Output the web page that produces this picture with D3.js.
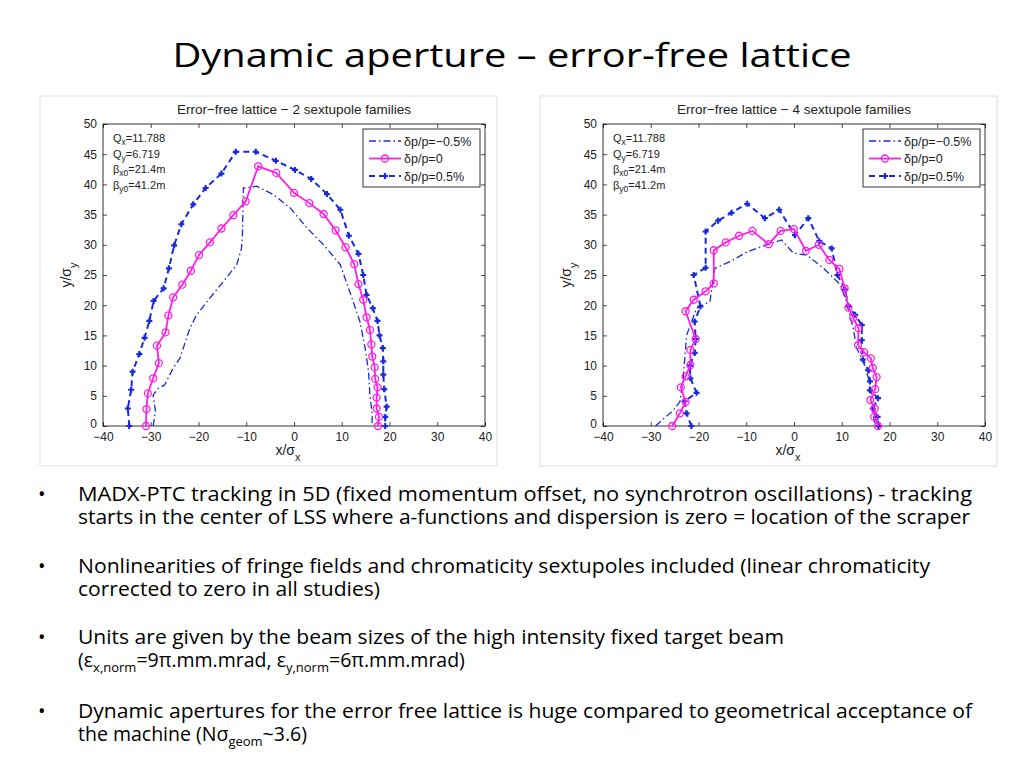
<!DOCTYPE html>
<html><head><meta charset="utf-8">
<script src="https://cdn.jsdelivr.net/npm/d3@7"></script>
<style>body{margin:0;background:#fff;overflow:hidden}</style>
</head><body><svg id="s" width="1024" height="768"></svg>
<script>
const xTicks=[-40,-30,-20,-10,0,10,20,30,40];
const yTicks=[0,5,10,15,20,25,30,35,40,45,50];
const legendLabels=["δp/p=−0.5%","δp/p=0","δp/p=0.5%"];
const titles=["Error−free lattice − 2 sextupole families","Error−free lattice − 4 sextupole families"];
// chart 1
const c1m=[[-29.5,0],[-29,2.4],[-29.5,5.1],[-28.5,6.2],[-27.1,6.8],[-25.3,9.6],[-23.9,11.2],[-21.8,16.2],[-20.4,18.4],[-17.6,21.2],[-14.8,23.9],[-12,26.7],[-11,29.4],[-10.8,31.7],[-10.6,39.4],[-7.8,39.7],[-4.3,38.3],[-0.8,36.1],[2.7,32.8],[6.2,30],[9.7,26.7],[12.4,20.6],[13.8,17.3],[14.9,12.9],[15.6,9],[15.9,5.1],[16.4,1.8],[16.3,0]];
const c1z=[[-31,0],[-30.9,2.8],[-30.6,5.4],[-29.5,7.9],[-28.3,10.4],[-28.7,13.3],[-26.9,15.5],[-26.3,18.3],[-25.3,21.3],[-23.4,23.4],[-21.6,25.7],[-19.9,28.3],[-17.6,30.4],[-15.2,32.7],[-12.7,34.9],[-10.1,37.2],[-7.5,43],[-3.7,41.9],[0,38.6],[3.2,36.9],[6.2,35.1],[8.7,32.4],[10.8,29.6],[12.6,26.8],[13.5,23.5],[14.5,20.9],[15.2,18],[15.9,15.9],[16.2,13.5],[16.4,11.5],[16.9,9.7],[17,7.8],[17.5,6.4],[17.3,4.7],[17.3,2.9],[17.8,1.5],[17.6,0]];
const c1p=[[-34.5,0],[-34.8,2.9],[-34.1,6],[-33.8,9],[-32.4,11.9],[-31.3,14.6],[-30.3,17.4],[-29.4,20.7],[-27.3,22.8],[-26.2,26.1],[-25.1,29.9],[-23.6,33.4],[-21.1,36.7],[-18.5,39.4],[-15.2,41.8],[-12.2,45.4],[-8,45.4],[-3.8,43.9],[0.2,42.4],[3.6,40.9],[6.9,38.4],[9.7,35.8],[11.5,31.5],[13.5,28.5],[14.5,25],[15.2,21.7],[16.5,19.5],[17.5,17.4],[17.9,15],[18.6,12.9],[18.7,10.7],[18.7,8.5],[18.9,6.1],[19.4,3.2],[19.1,1.5],[19.1,0]];
// chart 2
const c2m=[[-29,0],[-25.3,2.6],[-23.9,4],[-23.2,7.9],[-22.5,15],[-20.4,19.5],[-17.6,20.6],[-16.6,26.1],[-13.4,27.2],[-9.9,28.8],[-5.7,30],[-2.6,30.8],[-0.1,28.6],[2.7,28.3],[6.2,26.1],[9.7,23.4],[11,20.6],[12.4,16.2],[13.1,12.9],[14.5,10.7],[15.6,7.9],[16.3,5.1],[16.6,1.8],[17,0]];
const c2z=[[-25.5,0],[-23.9,2.1],[-22.7,4],[-23.7,6.4],[-22.7,8.2],[-21.7,10.1],[-21.7,12.6],[-20.6,14.4],[-22.7,19],[-21,20.9],[-18.5,22.3],[-16.8,23.6],[-16.8,29.1],[-14.3,30.4],[-11.5,31.5],[-8.7,32.3],[-5.3,30.1],[-2.8,32.3],[0,32.6],[2.5,29],[5.2,30],[7.4,27.5],[9.5,26],[10.6,22.8],[11.4,19.6],[12.4,17.9],[13.5,16.2],[13.4,13.4],[14.7,12.2],[16.1,11.2],[16.5,9.6],[17.3,8.1],[17,6.1],[16,4.3],[16.9,2.9],[16.8,1.5],[17.6,0]];
const c2p=[[-21.5,0],[-22.5,2.1],[-22.9,4.1],[-20.4,5.5],[-21.7,7.9],[-21.8,10],[-20.8,12.1],[-20.6,14.4],[-20.8,17.3],[-19.6,19.8],[-21,25],[-18.5,26.2],[-18.5,32.2],[-15.9,34],[-13.1,35.3],[-9.8,36.8],[-6.1,34.4],[-3.1,35.8],[0.2,31.6],[3,34.4],[5.3,30.6],[7.9,29.4],[9.1,25],[10.7,22.6],[11.4,19.8],[12.8,18.4],[14.2,16.7],[14.2,14.2],[14.4,11],[15.6,9.2],[15.9,7.4],[15.9,5.9],[17.6,4.6],[16.5,2.9],[17.5,1.5],[17.7,0]];

const svg=d3.select("#s");
svg.append("text").attr("x",512).attr("y",67).attr("text-anchor","middle").attr("font-family","Open Sans, sans-serif").attr("font-size",33).attr("textLength",679).attr("lengthAdjust","spacingAndGlyphs").attr("fill","#000").text("Dynamic aperture – error-free lattice");

function panel(ox,title,m,z,p){
  const g=svg.append("g");
  g.append("rect").attr("x",ox).attr("y",96).attr("width",457).attr("height",370).attr("fill","#fff").attr("stroke","#ddd");
  const x=d3.scaleLinear().domain([-40,40]).range([ox+63,ox+445]);
  const y=d3.scaleLinear().domain([0,50]).range([426,124]);
  const F="Liberation Sans, Arial, sans-serif";
  g.append("rect").attr("x",x(-40)).attr("y",y(50)).attr("width",x(40)-x(-40)).attr("height",y(0)-y(50)).attr("fill","none").attr("stroke","#000").attr("stroke-width",0.8);
  const xa=g.append("g").attr("transform",`translate(0,${y(0)})`).call(d3.axisBottom(x).tickValues(xTicks).tickSize(-4).tickPadding(6).tickFormat(d=>d<0?"−"+(-d):d));
  const xa2=g.append("g").attr("transform",`translate(0,${y(50)})`).call(d3.axisTop(x).tickValues(xTicks).tickSize(-4).tickFormat(""));
  const ya=g.append("g").attr("transform",`translate(${x(-40)},0)`).call(d3.axisLeft(y).tickValues(yTicks).tickSize(-4).tickPadding(6));
  const ya2=g.append("g").attr("transform",`translate(${x(40)},0)`).call(d3.axisRight(y).tickValues(yTicks).tickSize(-4).tickFormat(""));
  [xa,xa2,ya,ya2].forEach(a=>{a.select(".domain").remove();a.selectAll("text").attr("font-family",F).attr("font-size",12).attr("fill","#222");a.selectAll("line").attr("stroke","#000").attr("stroke-width",0.7);});
  ya.selectAll(".tick").filter(d=>d===0).select("text").attr("dy","0.1em");
  g.append("text").attr("x",(x(-40)+x(40))/2).attr("y",114).attr("text-anchor","middle").attr("font-family",F).attr("font-size",13.5).attr("fill","#222").text(title);
  const xl=g.append("text").attr("x",x(0)-6).attr("y",455).attr("text-anchor","middle").attr("font-family",F).attr("font-size",14).attr("fill","#222").text("x/σ");
  xl.append("tspan").attr("dy",6).attr("font-size",11).text("x");
  const yl=g.append("text").attr("transform",`translate(${ox+31},${y(25)}) rotate(-90)`).attr("text-anchor","middle").attr("font-family",F).attr("font-size",14).attr("fill","#222").text("y/σ");
  yl.append("tspan").attr("dy",6).attr("font-size",11).text("y");
  const params=[["Q","x","=11.788"],["Q","y","=6.719"],["β","x0","=21.4m"],["β","y0","=41.2m"]];
  params.forEach((q,i)=>{const t=g.append("text").attr("x",x(-40)+10).attr("y",y(50)+18+i*15.5).attr("font-family",F).attr("font-size",11).attr("fill","#222").text(q[0]);
    t.append("tspan").attr("dy",3).attr("font-size",8.5).text(q[1]);t.append("tspan").attr("dy",-3).text(q[2]);});
  const line=d3.line().x(d=>x(d[0])).y(d=>y(d[1]));
  g.append("path").attr("d",line(m)).attr("fill","none").attr("stroke","#1a2bd6").attr("stroke-width",1.3).attr("stroke-dasharray","7,3,1.5,3");
  g.append("path").attr("d",line(p)).attr("fill","none").attr("stroke","#1a2bd6").attr("stroke-width",2).attr("stroke-dasharray","6,4");
  p.forEach(d=>{g.append("path").attr("d",`M${x(d[0])-3},${y(d[1])}h6M${x(d[0])},${y(d[1])-3}v6`).attr("stroke","#1a2bd6").attr("stroke-width",2.2);});
  g.append("path").attr("d",line(z)).attr("fill","none").attr("stroke","#ff1ee6").attr("stroke-width",1.8);
  g.selectAll(null).data(z).enter().append("circle").attr("cx",d=>x(d[0])).attr("cy",d=>y(d[1])).attr("r",3.5).attr("fill","none").attr("stroke","#ff1ee6").attr("stroke-width",1.3);
  const lx=x(40)-122, ly=y(50)+5;
  g.append("rect").attr("x",lx).attr("y",ly).attr("width",117).attr("height",58).attr("fill","#fff").attr("stroke","#000").attr("stroke-width",0.8);
  legendLabels.forEach((L,i)=>{const yy=ly+12+i*17.5;
    const s=g.append("path").attr("d",`M${lx+6},${yy}h32`).attr("fill","none").attr("stroke",i==1?"#ff1ee6":"#1a2bd6").attr("stroke-width",i==0?1.3:1.8);
    if(i==0)s.attr("stroke-dasharray","7,3,1.5,3"); if(i==2)s.attr("stroke-dasharray","6,4");
    if(i==1)g.append("circle").attr("cx",lx+22).attr("cy",yy).attr("r",3.5).attr("fill","none").attr("stroke","#ff1ee6").attr("stroke-width",1.3);
    if(i==2)g.append("path").attr("d",`M${lx+19},${yy}h6M${lx+22},${yy-3}v6`).attr("stroke","#1a2bd6").attr("stroke-width",2.2);
    g.append("text").attr("x",lx+41).attr("y",yy+4.5).attr("font-family",F).attr("font-size",12.5).attr("fill","#222").text(L);});
}
panel(40,titles[0],c1m,c1z,c1p);
panel(540,titles[1],c2m,c2z,c2p);

const BF="Open Sans, sans-serif";
const bullets=[
 {y:501,lines:[[["MADX-PTC tracking in 5D (fixed momentum offset, no synchrotron oscillations) - tracking"]],[["starts in the center of LSS where a-functions and dispersion is zero = location of the scraper"]]],w:[894,892]},
 {y:573,lines:[[["Nonlinearities of fringe fields and chromaticity sextupoles included (linear chromaticity"]],[["corrected to zero in all studies)"]]],w:[852,302]},
 {y:644,lines:[[["Units are given by the beam sizes of the high intensity fixed target beam"]],[["(ε"],["x,norm","sub"],["=9π.mm.mrad, ε"],["y,norm","sub"],["=6π.mm.mrad)"]]],w:[706,null]},
 {y:718,lines:[[["Dynamic apertures for the error free lattice is huge compared to geometrical acceptance of"]],[["the machine (Nσ"],["geom","sub"],["~3.6)"]]],w:[894,null]}
];
bullets.forEach(b=>{
  svg.append("text").attr("x",38).attr("y",b.y).attr("font-family",BF).attr("font-size",20).text("•");
  b.lines.forEach((ln,i)=>{const t=svg.append("text").attr("x",78).attr("y",b.y+i*23).attr("font-family",BF).attr("font-size",19.5).attr("fill","#000");
    if(b.w[i])t.attr("textLength",b.w[i]).attr("lengthAdjust","spacingAndGlyphs");
    ln.forEach((seg,j)=>{const ts=t.append("tspan").text(seg[0]); if(seg[1]=="sub"){ts.attr("font-size",13).attr("dy",5);} else if(j>0){ts.attr("dy",-5);} });
  });
});
</script></body></html>
